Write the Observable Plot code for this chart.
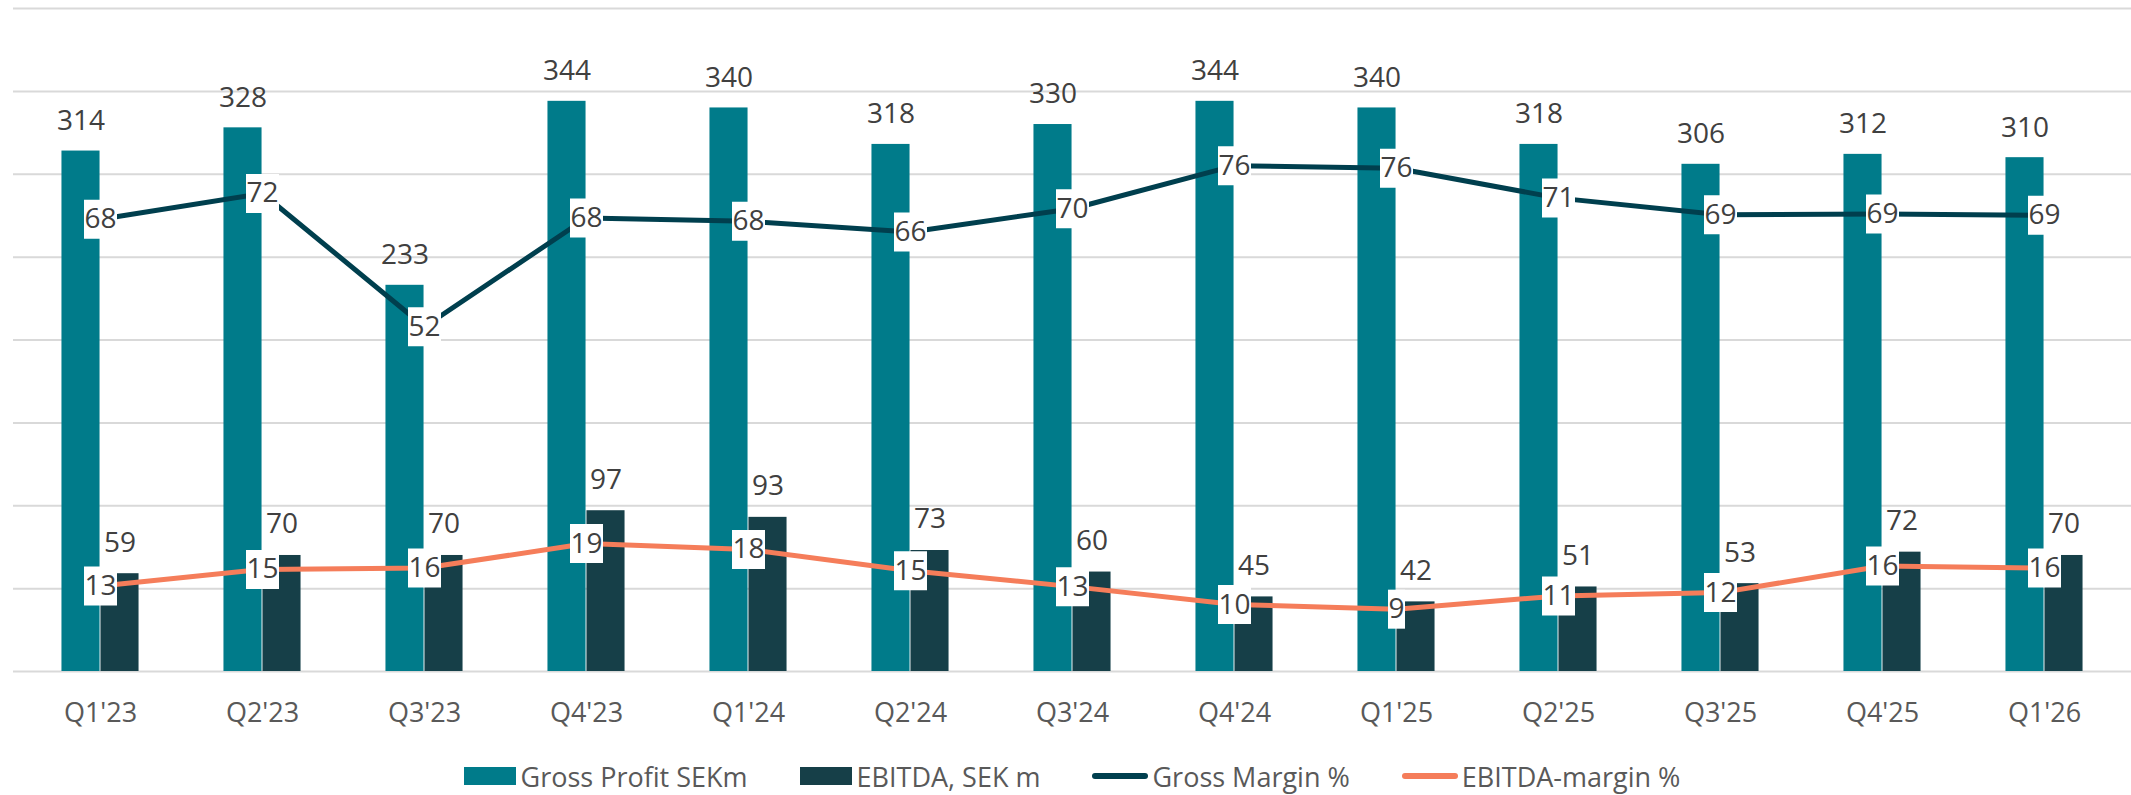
<!DOCTYPE html>
<html>
<head>
<meta charset="utf-8">
<script src="https://cdn.jsdelivr.net/npm/d3@7"></script>
<script src="https://cdn.jsdelivr.net/npm/@observablehq/plot@0.6"></script>
<style>
  html, body { margin: 0; padding: 0; background: #fff; overflow: hidden; }
  #chart svg { display: block; }
  #legend {
    height: 50px; padding-top: 6px;
    display: flex; justify-content: center; align-items: center;
    font-family: 'Open Sans', sans-serif; font-size: 27px; color: #595959;
    padding-left: 13px;
  }
  .item { display: flex; align-items: center; margin: 0 26px; }
  .sw { width: 52px; height: 18px; margin-right: 5px; }
  .ln { width: 56px; height: 6px; border-radius: 3px; margin-right: 4px; }
</style>
</head>
<body>
<div id="chart"></div>
<div id="legend"></div>
<script>
// ---- data ----
const quarters = ["Q1'23","Q2'23","Q3'23","Q4'23","Q1'24","Q2'24","Q3'24","Q4'24","Q1'25","Q2'25","Q3'25","Q4'25","Q1'26"];
const grossProfit = [314, 328, 233, 344, 340, 318, 330, 344, 340, 318, 306, 312, 310];
const ebitda = [59, 70, 70, 97, 93, 73, 60, 45, 42, 51, 53, 72, 70];
const grossMarginPct = [68.2, 72.1, 52.0, 68.4, 67.9, 66.3, 69.8, 76.3, 75.9, 71.4, 68.9, 69.0, 68.8];
const ebitdaMarginPct = [12.9, 15.4, 15.6, 19.3, 18.4, 15.2, 12.8, 10.1, 9.4, 11.4, 11.9, 15.9, 15.6];
const leftTicks = [0, 50, 100, 150, 200, 250, 300, 350, 400];
const leftMax = 400;   // SEK m axis
const rightMax = 100;  // % axis
const seriesNames = ["Gross Profit SEKm", "EBITDA, SEK m", "Gross Margin %", "EBITDA-margin %"];
const colors = ["#007B8A", "#163F48", "#003F4E", "#F57D5A"];

// ---- build table ----
const k = leftMax / rightMax;
const rows = quarters.map((q, i) => ({
  q, gp: grossProfit[i], eb: ebitda[i],
  gm: grossMarginPct[i], em: ebitdaMarginPct[i],
  gmY: grossMarginPct[i] * k, emY: ebitdaMarginPct[i] * k,
  gmL: String(Math.round(grossMarginPct[i])), emL: String(Math.round(ebitdaMarginPct[i]))
}));

const W = 2131, H = 745, ML = 13, MR = 0;
const step = (W - ML - MR) / quarters.length;
const barW = 39;

function boxSymbol(w, h) {
  return { draw(ctx) { ctx.rect(-w / 2, -h / 2, w, h); } };
}
const box2 = boxSymbol(33, 39), box1 = boxSymbol(17, 39);

const chart = Plot.plot({
  width: W, height: H,
  marginTop: 8, marginBottom: H - 671, marginLeft: ML, marginRight: MR,
  style: { fontFamily: "'Open Sans', sans-serif", color: "#595959", background: "white" },
  x: { domain: quarters, padding: 0, label: null },
  y: { domain: [0, leftMax], axis: null },
  marks: [
    Plot.gridY(leftTicks, { stroke: "#d9d9d9", strokeOpacity: 1, strokeWidth: 2 }),
    Plot.barY(rows, { x: "q", y: "gp", fill: colors[0], insetLeft: step / 2 - barW, insetRight: step / 2 }),
    Plot.barY(rows, { x: "q", y: "eb", fill: colors[1], insetLeft: step / 2, insetRight: step / 2 - barW }),
    Plot.line(rows, { x: "q", y: "gmY", stroke: colors[2], strokeWidth: 5 }),
    Plot.line(rows, { x: "q", y: "emY", stroke: colors[3], strokeWidth: 5 }),
    Plot.text(rows, { x: "q", y: "gp", text: d => String(d.gp), dx: -barW / 2, dy: -30, fontSize: 28, fill: "#404040", lineAnchor: "middle" }),
    Plot.text(rows, { x: "q", y: "eb", text: d => String(d.eb), dx: barW / 2, dy: -31, fontSize: 28, fill: "#404040", lineAnchor: "middle" }),
    Plot.dot(rows, { x: "q", y: "gmY", symbol: box2, fill: "white", filter: d => d.gmL.length === 2 }),
    Plot.dot(rows, { x: "q", y: "gmY", symbol: box1, fill: "white", filter: d => d.gmL.length === 1 }),
    Plot.dot(rows, { x: "q", y: "emY", symbol: box2, fill: "white", filter: d => d.emL.length === 2 }),
    Plot.dot(rows, { x: "q", y: "emY", symbol: box1, fill: "white", filter: d => d.emL.length === 1 }),
    Plot.text(rows, { x: "q", y: "gmY", text: "gmL", fontSize: 28, fill: "#404040", lineAnchor: "middle" }),
    Plot.text(rows, { x: "q", y: "emY", text: "emL", fontSize: 28, fill: "#404040", lineAnchor: "middle" }),
    Plot.axisX({ tickSize: 0, tickPadding: 31, fontSize: 27, fill: "#595959", label: null })
  ]
});
document.getElementById("chart").appendChild(chart);

// ---- legend ----
const legend = document.getElementById("legend");
seriesNames.forEach((name, i) => {
  const item = document.createElement("div");
  item.className = "item";
  const sw = document.createElement("div");
  sw.className = i < 2 ? "sw" : "ln";
  sw.style.background = colors[i];
  const t = document.createElement("span");
  t.textContent = name;
  item.appendChild(sw); item.appendChild(t);
  legend.appendChild(item);
});
</script>
</body>
</html>
